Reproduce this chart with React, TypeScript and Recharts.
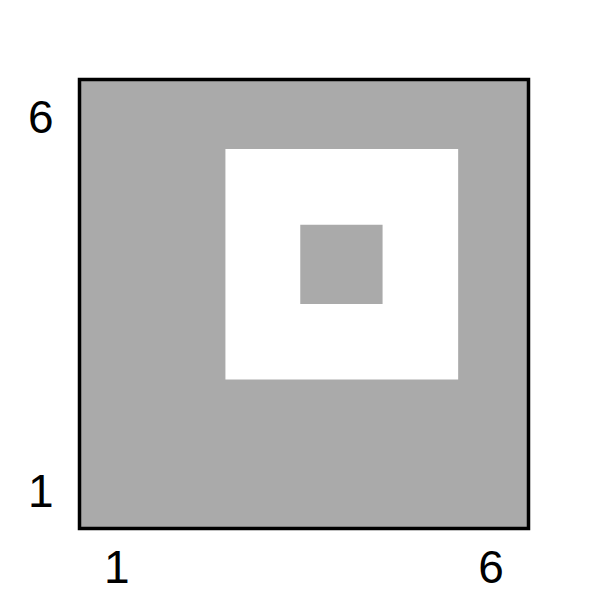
import React from 'react';
import {ReferenceArea, Scatter, ScatterChart, XAxis, YAxis} from 'recharts';

// grid extent (cells 1..6, edges at half steps)
const gridMin = 0.5;
const gridMax = 6.5;
const xTicks = [1, 6];
const yTicks = [1, 6];

// filled regions, drawn back-to-front
const regionX1 = [0.5, 2.45, 3.45];
const regionX2 = [6.5, 5.56, 4.55];
const regionY1 = [0.5, 2.49, 3.5];
const regionY2 = [6.5, 5.57, 4.56];
const regionLevel = ['low', 'high', 'low'];

const levelColor = {low: '#aaaaaa', high: '#ffffff'};
const font = '"Liberation Sans", Arial, Helvetica, sans-serif';

const XTick = ({x, y, payload}) => (
  <text x={x} y={y + 20} dy="0.71em" textAnchor="middle" fontSize={46} fontFamily={font} fill="#000">
    {payload.value}
  </text>
);

const YTick = ({x, y, payload}) => (
  <text x={x - 24} y={y} dy="0.355em" textAnchor="end" fontSize={46} fontFamily={font} fill="#000">
    {payload.value}
  </text>
);

export default function App() {
  return (
    <div style={{position: 'absolute', left: 0, top: 0}}>
      <ScatterChart width={609} height={609} margin={{top: 79.5, right: 80.5, bottom: 0, left: 0}}>
        <XAxis type="number" dataKey="x" domain={[gridMin, gridMax]} ticks={xTicks} height={80.5}
               axisLine={false} tickLine={false} tickSize={0} tick={XTick} allowDataOverflow/>
        <YAxis type="number" dataKey="y" domain={[gridMin, gridMax]} ticks={yTicks} width={79.5}
               axisLine={false} tickLine={false} tickSize={0} tick={YTick} allowDataOverflow/>
        {regionLevel.map((level, i) => (
          <ReferenceArea
            key={`region-${i}`}
            x1={regionX1[i]} x2={regionX2[i]} y1={regionY1[i]} y2={regionY2[i]}
            fill={levelColor[level]} fillOpacity={1}
            stroke={i === 0 ? '#000' : 'none'} strokeWidth={i === 0 ? 3.5 : 0}
            ifOverflow="visible"
          />
        ))}
        <Scatter data={[]} isAnimationActive={false}/>
      </ScatterChart>
    </div>
  );
}
